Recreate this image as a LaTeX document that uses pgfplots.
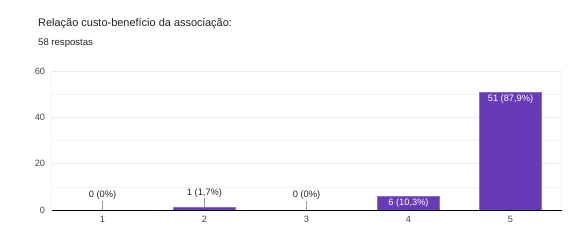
\documentclass[border=0pt]{standalone}
\usepackage{fontspec}
\setmainfont{Liberation Sans}
\usepackage{pgfplots}
\pgfplotsset{compat=1.18}
\definecolor{barpurple}{HTML}{673AB7}
\definecolor{baredge}{HTML}{8E6CCB}
\definecolor{txt}{HTML}{222222}
\definecolor{ticktxt}{HTML}{444444}
\definecolor{gridmaj}{HTML}{EBEBEB}
\definecolor{gridmin}{HTML}{F3F3F3}
\definecolor{baseline}{HTML}{9A9A9A}
\begin{document}
\begin{tikzpicture}[x=1bp,y=1bp]
\useasboundingbox (0,0) rectangle (588,244);
\node[anchor=base west, inner sep=0, font=\fontsize{11}{13}\selectfont, text=txt] at (38,218) {Relação custo-benefício da associação:};
\node[anchor=base west, inner sep=0, font=\fontsize{9.6}{11}\selectfont, text=txt] at (38,198.5) {58 respostas};
\begin{axis}[
  at={(51.5bp,34bp)}, anchor=south west,
  scale only axis, width=510bp, height=138.7bp,
  xmin=0.5, xmax=5.5, ymin=0, ymax=60,
  xtick={1,2,3,4,5}, ytick={0,20,40,60},
  minor ytick={10,30,50},
  ymajorgrids, yminorgrids,
  major grid style={gridmaj, line width=0.6pt},
  minor grid style={gridmin, line width=0.6pt},
  axis line style={draw=none},
  axis x line*=bottom,
  axis y line*=left,
  tick style={draw=none},
  major tick length=0pt,
  ticklabel style={font=\fontsize{9.2}{11}\selectfont, text=ticktxt},
  /pgf/number format/assume math mode=true,
  yticklabel style={xshift=-3bp},
  xticklabel style={yshift=-3bp},
  clip=false,
]
% faint frame sides
\draw[gridmin, line width=0.6pt] (axis cs:0.5,0) -- (axis cs:0.5,60);
\draw[gridmin, line width=0.6pt] (axis cs:5.5,0) -- (axis cs:5.5,60);
% leader lines
\addplot[ycomb, draw=baseline, line width=0.5pt, mark=none] coordinates {(1,3.9) (2,5.0) (3,3.9)};
% bars
\addplot[ybar, bar width=62bp, fill=barpurple, draw=baredge, line width=0.4pt, bar shift=0pt] coordinates {(1,0) (2,1) (3,0) (4,6) (5,51)};
% baseline
\draw[baseline, line width=1pt] (axis cs:0.5,0) -- (axis cs:5.5,0);
% labels above
\addplot[draw=none, mark=none, nodes near coords, point meta=explicit symbolic,
  every node near coord/.style={anchor=south, inner sep=1pt, yshift=0pt, font=\fontsize{9.3}{11}\selectfont, text=txt}]
  coordinates {(1,3.9) [0 (0\%)] (2,5.0) [1 (1,7\%)] (3,3.9) [0 (0\%)]};
% labels inside
\addplot[draw=none, mark=none, nodes near coords, point meta=explicit symbolic,
  every node near coord/.style={anchor=north, inner sep=1pt, yshift=-1.5bp, font=\fontsize{9.3}{11}\selectfont, text=white}]
  coordinates {(4,6) [6 (10,3\%)] (5,51) [51 (87,9\%)]};
\end{axis}
\end{tikzpicture}
\end{document}
